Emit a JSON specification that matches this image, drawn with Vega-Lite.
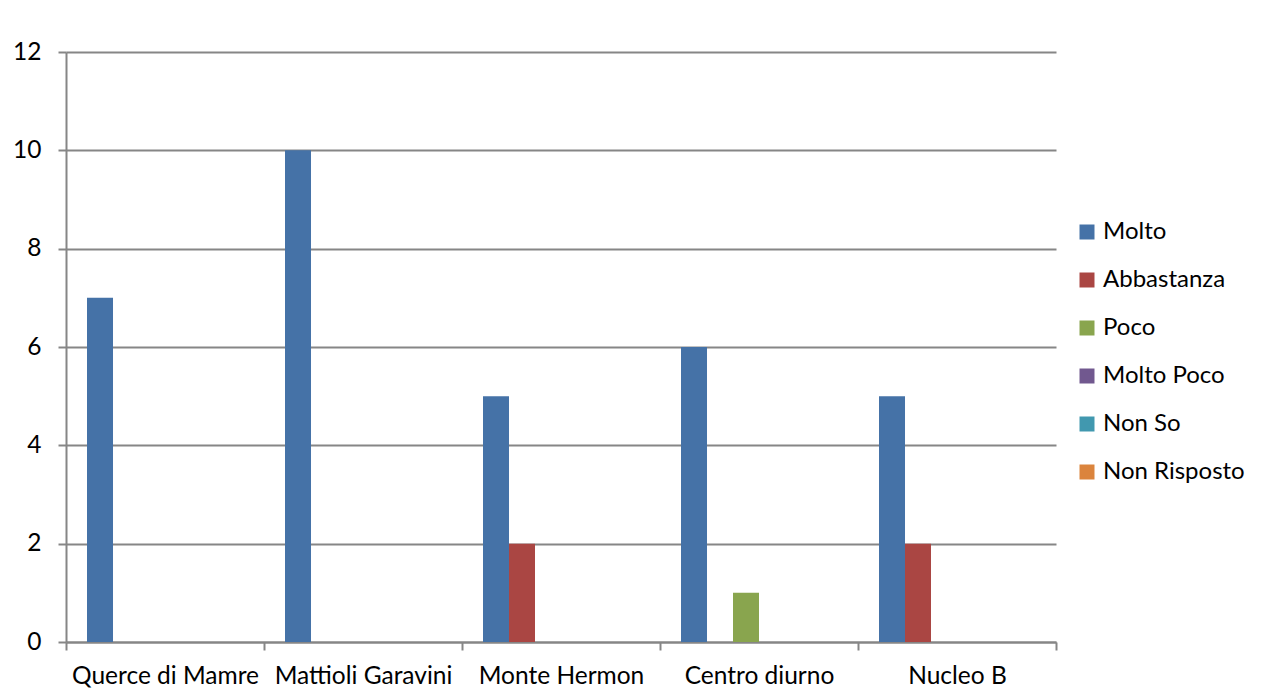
{
  "$schema": "https://vega.github.io/schema/vega-lite/v6.json",
  "width": 990,
  "height": 590,
  "autosize": {"type": "none"},
  "padding": {"left": 66, "top": 52, "right": 205, "bottom": 47},
  "background": "white",
  "data": {
    "values": [
      {"sede": "Querce di Mamre", "risposta": "Molto", "n": 7},
      {"sede": "Querce di Mamre", "risposta": "Abbastanza", "n": 0},
      {"sede": "Querce di Mamre", "risposta": "Poco", "n": 0},
      {"sede": "Querce di Mamre", "risposta": "Molto Poco", "n": 0},
      {"sede": "Querce di Mamre", "risposta": "Non So", "n": 0},
      {"sede": "Querce di Mamre", "risposta": "Non Risposto", "n": 0},
      {"sede": "Mattioli Garavini", "risposta": "Molto", "n": 10},
      {"sede": "Mattioli Garavini", "risposta": "Abbastanza", "n": 0},
      {"sede": "Mattioli Garavini", "risposta": "Poco", "n": 0},
      {"sede": "Mattioli Garavini", "risposta": "Molto Poco", "n": 0},
      {"sede": "Mattioli Garavini", "risposta": "Non So", "n": 0},
      {"sede": "Mattioli Garavini", "risposta": "Non Risposto", "n": 0},
      {"sede": "Monte Hermon", "risposta": "Molto", "n": 5},
      {"sede": "Monte Hermon", "risposta": "Abbastanza", "n": 2},
      {"sede": "Monte Hermon", "risposta": "Poco", "n": 0},
      {"sede": "Monte Hermon", "risposta": "Molto Poco", "n": 0},
      {"sede": "Monte Hermon", "risposta": "Non So", "n": 0},
      {"sede": "Monte Hermon", "risposta": "Non Risposto", "n": 0},
      {"sede": "Centro diurno", "risposta": "Molto", "n": 6},
      {"sede": "Centro diurno", "risposta": "Abbastanza", "n": 0},
      {"sede": "Centro diurno", "risposta": "Poco", "n": 1},
      {"sede": "Centro diurno", "risposta": "Molto Poco", "n": 0},
      {"sede": "Centro diurno", "risposta": "Non So", "n": 0},
      {"sede": "Centro diurno", "risposta": "Non Risposto", "n": 0},
      {"sede": "Nucleo B", "risposta": "Molto", "n": 5},
      {"sede": "Nucleo B", "risposta": "Abbastanza", "n": 2},
      {"sede": "Nucleo B", "risposta": "Poco", "n": 0},
      {"sede": "Nucleo B", "risposta": "Molto Poco", "n": 0},
      {"sede": "Nucleo B", "risposta": "Non So", "n": 0},
      {"sede": "Nucleo B", "risposta": "Non Risposto", "n": 0}
    ]
  },
  "mark": {"type": "bar", "stroke": null},
  "encoding": {
    "x": {
      "field": "sede",
      "type": "nominal",
      "sort": ["Querce di Mamre", "Mattioli Garavini", "Monte Hermon", "Centro diurno", "Nucleo B"],
      "scale": {"paddingInner": 0, "paddingOuter": 0},
      "axis": {
        "title": null,
        "labelAngle": 0,
        "labelLimit": 0,
        "tickBand": "extent",
        "tickSize": 8,
        "tickWidth": 2,
        "tickColor": "#868686",
        "domainColor": "#868686",
        "domainWidth": 2,
        "labelPadding": 14,
        "labelFont": "Lato",
        "labelFontSize": 24.5,
        "labelColor": "#000000",
        "grid": false
      }
    },
    "xOffset": {
      "field": "risposta",
      "type": "nominal",
      "sort": ["Molto", "Abbastanza", "Poco", "Molto Poco", "Non So", "Non Risposto"],
      "scale": {"paddingInner": 0, "paddingOuter": 0.808}
    },
    "y": {
      "field": "n",
      "type": "quantitative",
      "scale": {"domain": [0, 12], "nice": false},
      "axis": {
        "title": null,
        "values": [0, 2, 4, 6, 8, 10, 12],
        "tickSize": 8,
        "tickWidth": 2,
        "tickColor": "#868686",
        "domainColor": "#868686",
        "domainWidth": 2,
        "gridColor": "#868686",
        "gridWidth": 2,
        "labelPadding": 17,
        "labelFont": "Lato",
        "labelFontSize": 24.5,
        "labelColor": "#000000"
      }
    },
    "color": {
      "field": "risposta",
      "type": "nominal",
      "sort": ["Molto", "Abbastanza", "Poco", "Molto Poco", "Non So", "Non Risposto"],
      "scale": {
        "domain": ["Molto", "Abbastanza", "Poco", "Molto Poco", "Non So", "Non Risposto"],
        "range": ["#4572A7", "#AA4643", "#89A54E", "#71588F", "#4198AF", "#DB843D"]
      },
      "legend": {
        "title": null,
        "orient": "none",
        "legendX": 1009,
        "legendY": 168,
        "symbolType": "square",
        "symbolSize": 225,
        "symbolStrokeWidth": 0,
        "rowPadding": 24,
        "labelFont": "Lato",
        "labelFontSize": 24,
        "labelColor": "#000000",
        "labelOffset": 4,
        "labelLimit": 0
      }
    }
  },
  "config": {
    "view": {"stroke": null}
  }
}
